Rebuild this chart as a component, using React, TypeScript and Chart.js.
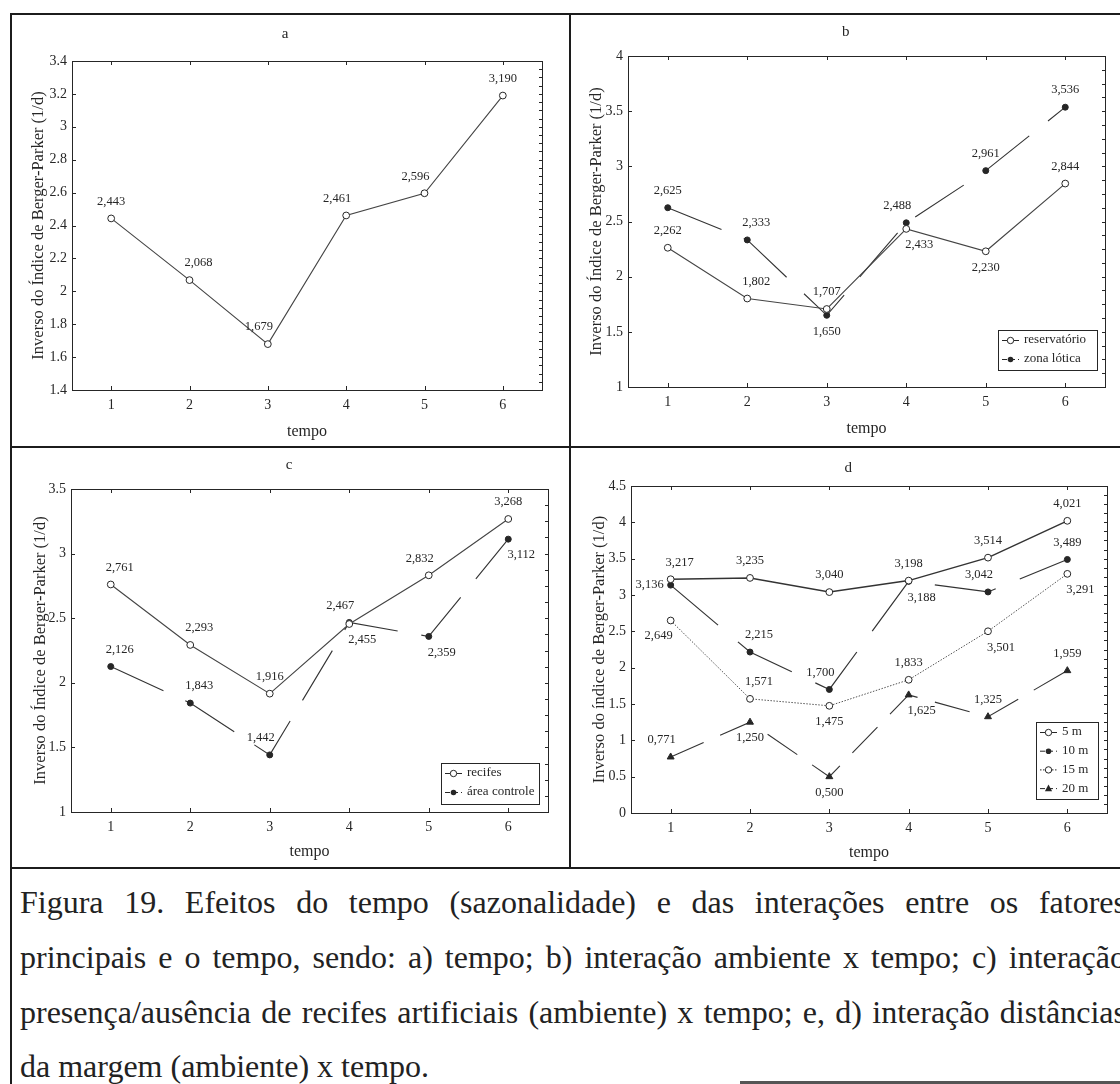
import React, { useEffect, useRef } from 'react';
import { Chart, registerables } from 'chart.js';

Chart.register(...registerables);

// ---------- data ----------
const tempo = ['1', '2', '3', '4', '5', '6'];

const aTempo = [2.443, 2.068, 1.679, 2.461, 2.596, 3.19];

const bReservatorio = [2.262, 1.802, 1.707, 2.433, 2.23, 2.844];
const bZonaLotica = [2.625, 2.333, 1.65, 2.488, 2.961, 3.536];

const cRecifes = [2.761, 2.293, 1.916, 2.455, 2.832, 3.268];
const cAreaControle = [2.126, 1.843, 1.442, 2.467, 2.359, 3.112];

const d5m = [3.217, 3.235, 3.04, 3.198, 3.514, 4.021];
const d10m = [3.136, 2.215, 1.7, 3.188, 3.042, 3.489];
const d15m = [2.649, 1.571, 1.475, 1.833, 2.501, 3.291];
const d20m = [0.771, 1.25, 0.5, 1.625, 1.325, 1.959];
// printed value labels as they appear in the figure (one misprint kept)
const d15mText = ['2,649', '1,571', '1,475', '1,833', '3,501', '3,291'];

const yTitleUpper = 'Inverso do Índice de Berger-Parker (1/d)';
const yTitleLower = 'Inverso do índice de Berger-Parker (1/d)';

const captionLines = [
  'Figura 19. Efeitos do tempo (sazonalidade) e das interações entre os fatores',
  'principais e o tempo, sendo: a) tempo; b) interação ambiente x tempo; c) interação',
  'presença/ausência de recifes artificiais (ambiente) x tempo; e, d) interação distâncias',
  'da margem (ambiente) x tempo.',
];

// ---------- helpers ----------
const fmt = (v: number) => v.toFixed(3).replace('.', ',');
const FONT = "'Liberation Serif', 'DejaVu Serif', serif";
const INK = '#262626';

const OFF: Record<string, [number, number]> = {
  a: [0, -17],
  b: [0, 16],
  ar: [9, -17],
  al: [-9, -17],
  br: [13, 16],
  bl: [-12, 15],
  l: [-21, 0],
};

type Series = {
  label: string;
  data: number[];
  text?: string[];
  pos: string[];
  kind: 'open' | 'filled' | 'triangle';
  dash: number[];
  width: number;
  color: string;
};

type Spec = {
  letter: string;
  yTitle: string;
  yMin: number;
  yMax: number;
  yStep: number;
  box: { left: number; top: number; width: number; height: number };
  area: { left: number; right: number; top: number; bottom: number };
  titleY: number;
  yTitleX: number;
  xTitleY: number;
  legend?: { x: number; y: number; w: number; h: number; row: number };
  series: Series[];
};

const specs: Spec[] = [
  {
    letter: 'a',
    yTitle: yTitleUpper,
    yMin: 1.4,
    yMax: 3.4,
    yStep: 0.2,
    box: { left: 12, top: 16, width: 556, height: 429 },
    area: { left: 60, right: 530, top: 45, bottom: 374 },
    titleY: 18,
    yTitleX: 26,
    xTitleY: 416,
    series: [
      {
        label: 'tempo',
        data: aTempo,
        pos: ['a', 'ar', 'al', 'al', 'al', 'a'],
        kind: 'open',
        dash: [],
        width: 1.1,
        color: '#444444',
      },
    ],
  },
  {
    letter: 'b',
    yTitle: yTitleUpper,
    yMin: 1,
    yMax: 4,
    yStep: 0.5,
    box: { left: 572, top: 16, width: 548, height: 429 },
    area: { left: 56, right: 533, top: 40, bottom: 371 },
    titleY: 16,
    yTitleX: 24,
    xTitleY: 413,
    legend: { x: 426, y: 314, w: 99, h: 40, row: 19 },
    series: [
      {
        label: 'reservatório',
        data: bReservatorio,
        pos: ['a', 'ar', 'a', 'br', 'b', 'a'],
        kind: 'open',
        dash: [],
        width: 1.1,
        color: '#444444',
      },
      {
        label: 'zona lótica',
        data: bZonaLotica,
        pos: ['a', 'ar', 'b', 'al', 'a', 'a'],
        kind: 'filled',
        dash: [58, 24],
        width: 1.1,
        color: '#333333',
      },
    ],
  },
  {
    letter: 'c',
    yTitle: yTitleUpper,
    yMin: 1,
    yMax: 3.5,
    yStep: 0.5,
    box: { left: 12, top: 449, width: 558, height: 418 },
    area: { left: 59, right: 536, top: 40, bottom: 363 },
    titleY: 16,
    yTitleX: 28,
    xTitleY: 403,
    legend: { x: 429, y: 314, w: 98, h: 41, row: 19 },
    series: [
      {
        label: 'recifes',
        data: cRecifes,
        pos: ['ar', 'ar', 'a', 'br', 'al', 'a'],
        kind: 'open',
        dash: [],
        width: 1.1,
        color: '#444444',
      },
      {
        label: 'área controle',
        data: cAreaControle,
        pos: ['ar', 'ar', 'al', 'al', 'br', 'br'],
        kind: 'filled',
        dash: [58, 24],
        width: 1.1,
        color: '#333333',
      },
    ],
  },
  {
    letter: 'd',
    yTitle: yTitleLower,
    yMin: 0,
    yMax: 4.5,
    yStep: 0.5,
    box: { left: 572, top: 449, width: 548, height: 418 },
    area: { left: 59, right: 535, top: 37, bottom: 364 },
    titleY: 19,
    yTitleX: 27,
    xTitleY: 404,
    legend: { x: 464, y: 273, w: 62, h: 77, row: 18.7 },
    series: [
      {
        label: '5 m',
        data: d5m,
        pos: ['ar', 'a', 'a', 'a', 'a', 'a'],
        kind: 'open',
        dash: [],
        width: 1.5,
        color: '#333333',
      },
      {
        label: '10 m',
        data: d10m,
        pos: ['l', 'ar', 'al', 'br', 'al', 'a'],
        kind: 'filled',
        dash: [62, 26],
        width: 1.2,
        color: '#333333',
      },
      {
        label: '15 m',
        data: d15m,
        text: d15mText,
        pos: ['bl', 'ar', 'b', 'a', 'br', 'br'],
        kind: 'open',
        dash: [1.5, 1.5],
        width: 1,
        color: '#555555',
      },
      {
        label: '20 m',
        data: d20m,
        pos: ['al', 'b', 'b', 'br', 'a', 'a'],
        kind: 'triangle',
        dash: [36, 18],
        width: 1.1,
        color: '#333333',
      },
    ],
  },
];

// ---------- plugins ----------
const framePlugin = {
  id: 'frame',
  beforeDatasetsDraw(chart: any) {
    const { ctx, chartArea: a, scales } = chart;
    ctx.save();
    ctx.strokeStyle = INK;
    ctx.lineWidth = 1;
    ctx.strokeRect(Math.round(a.left) + 0.5, Math.round(a.top) + 0.5, Math.round(a.right - a.left), Math.round(a.bottom - a.top));
    ctx.beginPath();
    const y = scales.y;
    const ticks = y.ticks.map((t: any) => t.value);
    ticks.forEach((v: number) => {
      const py = Math.round(y.getPixelForValue(v)) + 0.5;
      ctx.moveTo(a.left, py);
      ctx.lineTo(a.left + 4, py);
    });
    for (let i = 0; i < ticks.length - 1; i++) {
      for (let k = 0; k < 4; k++) {
        const v = ticks[i] + ((ticks[i + 1] - ticks[i]) * k) / 4;
        const py = Math.round(y.getPixelForValue(v)) + 0.5;
        ctx.moveTo(a.right - 3, py);
        ctx.lineTo(a.right, py);
      }
    }
    const x = scales.x;
    tempo.forEach((_, i) => {
      const px = Math.round(x.getPixelForValue(i)) + 0.5;
      ctx.moveTo(px, a.bottom);
      ctx.lineTo(px, a.bottom - 4);
      ctx.moveTo(px, a.top);
      ctx.lineTo(px, a.top + 4);
    });
    ctx.stroke();
    ctx.restore();
  },
};

const labelPlugin = {
  id: 'pointLabels',
  afterDatasetsDraw(chart: any) {
    const { ctx } = chart;
    ctx.save();
    ctx.font = `12.5px ${FONT}`;
    ctx.fillStyle = INK;
    ctx.textAlign = 'center';
    ctx.textBaseline = 'middle';
    chart.data.datasets.forEach((ds: any, di: number) => {
      const meta = chart.getDatasetMeta(di);
      meta.data.forEach((pt: any, i: number) => {
        const off = OFF[ds.pos[i]] || OFF.a;
        const txt = ds.text ? ds.text[i] : fmt(ds.data[i]);
        ctx.fillText(txt, pt.x + off[0], pt.y + off[1]);
      });
    });
    ctx.restore();
  },
};

function drawMarker(ctx: CanvasRenderingContext2D, kind: string, x: number, y: number, color: string) {
  ctx.beginPath();
  if (kind === 'triangle') {
    ctx.moveTo(x, y - 4);
    ctx.lineTo(x + 3.6, y + 2.6);
    ctx.lineTo(x - 3.6, y + 2.6);
    ctx.closePath();
    ctx.fillStyle = color;
    ctx.fill();
  } else if (kind === 'filled') {
    ctx.arc(x, y, 2.8, 0, Math.PI * 2);
    ctx.fillStyle = color;
    ctx.fill();
  } else {
    ctx.arc(x, y, 3.2, 0, Math.PI * 2);
    ctx.fillStyle = '#ffffff';
    ctx.fill();
    ctx.strokeStyle = color;
    ctx.lineWidth = 1;
    ctx.setLineDash([]);
    ctx.stroke();
  }
}

const legendPlugin = {
  id: 'boxLegend',
  afterDraw(chart: any) {
    const lg = chart.options.plugins.boxLegend;
    if (!lg || !lg.box) return;
    const { ctx } = chart;
    const b = lg.box;
    ctx.save();
    ctx.fillStyle = '#ffffff';
    ctx.fillRect(b.x, b.y, b.w, b.h);
    ctx.strokeStyle = INK;
    ctx.lineWidth = 1;
    ctx.strokeRect(b.x + 0.5, b.y + 0.5, b.w, b.h);
    chart.data.datasets.forEach((ds: any, i: number) => {
      const cy = b.y + 10 + i * b.row;
      ctx.strokeStyle = INK;
      ctx.lineWidth = 1;
      ctx.setLineDash(ds.dashSample);
      ctx.beginPath();
      ctx.moveTo(b.x + 4, cy + 0.5);
      ctx.lineTo(b.x + 21, cy + 0.5);
      ctx.stroke();
      ctx.setLineDash([]);
      drawMarker(ctx, ds.kind, b.x + 12.5, cy + 0.5, INK);
      ctx.fillStyle = INK;
      ctx.font = `13px ${FONT}`;
      ctx.textAlign = 'left';
      ctx.textBaseline = 'middle';
      ctx.fillText(ds.label, b.x + 26, cy);
    });
    ctx.restore();
  },
};

const tickText = (v: any) => String(Number(Number(v).toFixed(2)));

// ---------- chart ----------
function buildConfig(spec: Spec): any {
  const { box, area } = spec;
  const padLeft = spec.yTitleX - 9.6;
  const padBottom = box.height - spec.xTitleY - 9.6;
  const datasets = spec.series.map((s) => ({
    label: s.label,
    data: s.data,
    text: s.text,
    pos: s.pos,
    kind: s.kind,
    dashSample: s.dash.length ? (s.dash[0] > 10 ? [5, 3] : [1.5, 1.5]) : [],
    borderColor: s.color,
    borderWidth: s.width,
    borderDash: s.dash,
    tension: 0,
    pointStyle: s.kind === 'triangle' ? 'triangle' : 'circle',
    pointRadius: s.kind === 'open' ? 3.4 : s.kind === 'triangle' ? 4 : 3,
    pointBorderWidth: 1,
    pointBackgroundColor: s.kind === 'open' ? '#ffffff' : INK,
    pointBorderColor: INK,
  }));
  return {
    type: 'line',
    data: { labels: tempo, datasets },
    plugins: [framePlugin, labelPlugin, legendPlugin],
    options: {
      responsive: false,
      animation: false,
      devicePixelRatio: 1,
      layout: {
        padding: { left: padLeft, right: box.width - area.right, top: 0, bottom: padBottom },
      },
      plugins: {
        legend: { display: false },
        tooltip: { enabled: false },
        title: {
          display: true,
          text: spec.letter,
          color: INK,
          font: { family: FONT, size: 15, weight: 'normal', lineHeight: 1.2 },
          padding: { top: spec.titleY - 9, bottom: area.top - spec.titleY - 9 },
        },
        boxLegend: { box: spec.legend },
      },
      scales: {
        x: {
          type: 'category',
          offset: true,
          grid: { display: false, drawTicks: false },
          border: { display: false },
          ticks: { color: INK, padding: 7, font: { family: FONT, size: 14 } },
          title: {
            display: true,
            text: 'tempo',
            color: INK,
            padding: 0,
            font: { family: FONT, size: 16, lineHeight: 1.2 },
          },
          afterFit(s: any) {
            s.height = box.height - area.bottom - padBottom;
          },
        },
        y: {
          type: 'linear',
          min: spec.yMin,
          max: spec.yMax,
          grid: { display: false, drawTicks: false },
          border: { display: false },
          ticks: {
            stepSize: spec.yStep,
            color: INK,
            padding: 5,
            font: { family: FONT, size: 14 },
            callback: tickText,
          },
          title: {
            display: true,
            text: spec.yTitle,
            color: INK,
            padding: 0,
            font: { family: FONT, size: 16.5, lineHeight: 1.2 },
          },
          afterFit(s: any) {
            s.width = area.left - padLeft;
          },
        },
      },
    },
  };
}

function Panel({ spec }: { spec: Spec }) {
  const ref = useRef<HTMLCanvasElement>(null);
  useEffect(() => {
    const chart = new Chart(ref.current as HTMLCanvasElement, buildConfig(spec));
    return () => chart.destroy();
  }, [spec]);
  return (
    <canvas
      ref={ref}
      width={spec.box.width}
      height={spec.box.height}
      style={{ position: 'absolute', left: spec.box.left, top: spec.box.top, width: spec.box.width, height: spec.box.height }}
    />
  );
}

function Rule({ l, t, w, h, c = '#1c1c1c' }: { l: number; t: number; w: number; h: number; c?: string }) {
  return <div style={{ position: 'absolute', left: l, top: t, width: w, height: h, background: c }} />;
}

export default function App() {
  const lineTops = [884, 939, 994, 1048];
  return (
    <div
      style={{
        position: 'absolute',
        left: 0,
        top: 0,
        width: 1120,
        height: 1084,
        overflow: 'hidden',
        background: '#ffffff',
        fontFamily: FONT,
      }}
    >
      {specs.map((s) => (
        <Panel key={s.letter} spec={s} />
      ))}
      <Rule l={10} t={13} w={1110} h={2} />
      <Rule l={10} t={13} w={2} h={1071} />
      <Rule l={569} t={13} w={2} h={856} />
      <Rule l={10} t={446} w={1110} h={2} />
      <Rule l={10} t={867} w={1110} h={2} />
      <Rule l={740} t={1081} w={380} h={3} c="#555555" />
      {captionLines.map((line, i) => (
        <div
          key={i}
          style={{
            position: 'absolute',
            left: 20,
            top: lineTops[i],
            width: 1106,
            fontSize: 32,
            lineHeight: '36px',
            color: '#222222',
            whiteSpace: 'nowrap',
            textAlign: i < 3 ? 'justify' : 'left',
            textAlignLast: i < 3 ? 'justify' : 'left',
          }}
        >
          {line}
        </div>
      ))}
    </div>
  );
}
